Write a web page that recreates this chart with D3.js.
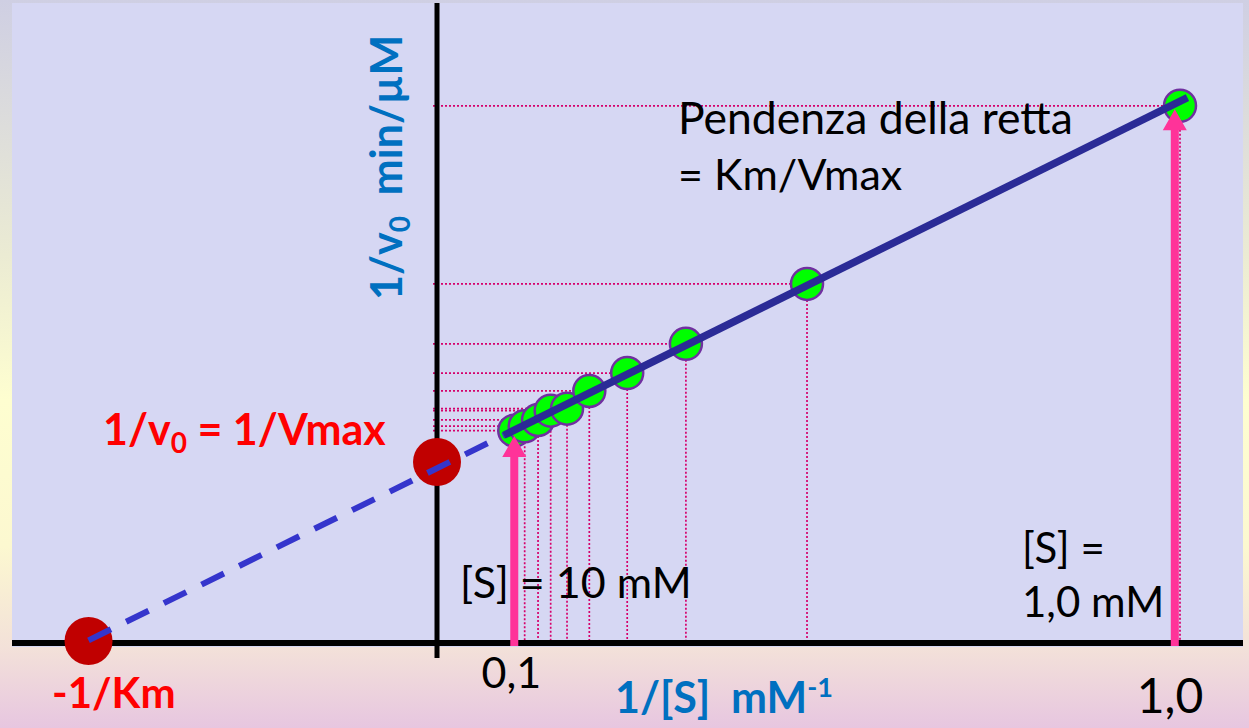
<!DOCTYPE html>
<html>
<head>
<meta charset="utf-8">
<script src="https://cdn.jsdelivr.net/npm/d3@7"></script>
<style>
  html, body { margin: 0; padding: 0; background: #fff; }
  svg { display: block; }
  text { font-family: Lato, "Open Sans", sans-serif; white-space: pre; }
</style>
</head>
<body>
<div id="chart"></div>
<script>
// Lineweaver-Burk points (1/[S] in mM^-1, 1/v0 arbitrary units)
const invS = [0.104, 0.118, 0.136, 0.153, 0.175, 0.205, 0.256, 0.335, 0.498, 1.0];
const invV = [1.175, 1.2, 1.235, 1.287, 1.298, 1.397, 1.497, 1.66, 1.995, 2.99];

// fitted straight line  1/v0 = lineIntercept + lineSlope * 1/[S]
const lineIntercept = 0.965;
const lineSlope = 2.05;
const solidFrom = 0.09, solidTo = 1.01;

// special points on the axes
const negInvKm = -0.469;     // x intercept
const invVmax = 1.0;         // y intercept (drawn dot)

// arrows marking [S] = 10 mM and [S] = 1,0 mM
const arrowX = [0.104, 0.993];
const arrowTip = [1.145, 2.97];

const xTicks = [{ v: 0.1, label: "0,1", dx: 0 }, { v: 1.0, label: "1,0", dx: -10 }];

const W = 1249, H = 728;

const x = d3.scaleLinear().domain([0, 1]).range([437, 1180]);
const y = d3.scaleLinear().domain([0, 1]).range([641, 462]);

const svg = d3.select("#chart").append("svg")
    .attr("width", W)
    .attr("height", H);

// slide-like background
const defs = svg.append("defs");
const grad = defs.append("linearGradient")
    .attr("id", "bg")
    .attr("x1", 0).attr("y1", 0).attr("x2", 0).attr("y2", 1);
[["0", "#cfcfe3"], ["0.35", "#ebebd3"], ["0.55", "#fefed0"], ["0.75", "#fcf8d0"], ["0.89", "#f3e1d9"], ["1", "#e7c6e0"]]
    .forEach(function (s) { grad.append("stop").attr("offset", s[0]).attr("stop-color", s[1]); });

svg.append("rect").attr("width", W).attr("height", H).attr("fill", "url(#bg)");
svg.append("rect")
    .attr("x", 12).attr("y", 3)
    .attr("width", 1231).attr("height", 644)
    .attr("fill", "#d6d7f3");

const pts = invS.map(function (d, i) { return { x: d, y: invV[i] }; });

// dotted guide lines
const guides = svg.append("g")
    .attr("stroke", "#d6006b")
    .attr("stroke-width", 1.7)
    .attr("stroke-dasharray", "2,2");

guides.selectAll(".h").data(pts).enter().append("line")
    .attr("x1", x(0) - 4).attr("x2", function (d) { return x(d.x); })
    .attr("y1", function (d) { return y(d.y); })
    .attr("y2", function (d) { return y(d.y); });

guides.selectAll(".v").data(pts).enter().append("line")
    .attr("x1", function (d) { return x(d.x); })
    .attr("x2", function (d) { return x(d.x); })
    .attr("y1", function (d) { return y(d.y); })
    .attr("y2", y(0));

// axes
svg.append("line")
    .attr("x1", 12).attr("x2", 1243)
    .attr("y1", y(0) + 2).attr("y2", y(0) + 2)
    .attr("stroke", "#000").attr("stroke-width", 6);
svg.append("line")
    .attr("x1", x(0)).attr("x2", x(0))
    .attr("y1", 3).attr("y2", 658)
    .attr("stroke", "#000").attr("stroke-width", 5);

// intercept dots
svg.selectAll(".icpt")
    .data([[negInvKm, 0], [0, invVmax]])
    .enter().append("circle")
    .attr("cx", function (d) { return x(d[0]); })
    .attr("cy", function (d) { return y(d[1]); })
    .attr("r", 24)
    .attr("fill", "#c00000");

// measured points
svg.selectAll(".pt").data(pts).enter().append("circle")
    .attr("cx", function (d) { return x(d.x); })
    .attr("cy", function (d) { return y(d.y); })
    .attr("r", 16)
    .attr("fill", "#00ff00")
    .attr("stroke", "#7030a0")
    .attr("stroke-width", 2.5);

// pink arrows
arrowX.forEach(function (ax, i) {
    const cx = x(ax), tip = y(arrowTip[i]), base = y(0) + 5;
    const hl = 21, hw = 12, sw = 4;
    const p = d3.path();
    p.moveTo(cx - sw, base);
    p.lineTo(cx - sw, tip + hl);
    p.lineTo(cx - hw, tip + hl);
    p.lineTo(cx, tip);
    p.lineTo(cx + hw, tip + hl);
    p.lineTo(cx + sw, tip + hl);
    p.lineTo(cx + sw, base);
    p.closePath();
    svg.append("path").attr("d", p.toString()).attr("fill", "#ff3399");
});

// regression line: dashed extrapolation and solid fit
const fit = function (v) { return lineIntercept + lineSlope * v; };
const lineGen = d3.line()
    .x(function (d) { return x(d); })
    .y(function (d) { return y(fit(d)); });

svg.append("path")
    .attr("d", lineGen([negInvKm, solidFrom]))
    .attr("stroke", "#3535cc")
    .attr("stroke-width", 6)
    .attr("stroke-dasharray", "25,17")
    .attr("fill", "none");

svg.append("path")
    .attr("d", lineGen([solidFrom, solidTo]))
    .attr("stroke", "#2b2b96")
    .attr("stroke-width", 7.5)
    .attr("fill", "none");

// texts
function label(t, px, py, size, weight, color) {
    return svg.append("text")
        .attr("x", px).attr("y", py)
        .attr("font-size", size)
        .attr("font-weight", weight)
        .attr("fill", color)
        .text(t);
}

label("Pendenza della retta", 678, 134, 44.5, "normal", "#000");
label("= Km/Vmax", 678, 190, 43, "normal", "#000");

const vmaxLbl = svg.append("text")
    .attr("x", 103).attr("y", 445)
    .attr("font-size", 43).attr("font-weight", "bold").attr("fill", "#ff0000");
vmaxLbl.append("tspan").text("1/v");
vmaxLbl.append("tspan").attr("font-size", 28).attr("dy", 8).text("0");
vmaxLbl.append("tspan").attr("dy", -8).text(" = 1/Vmax");

label("-1/Km", 52, 708, 42, "bold", "#ff0000");

label("[S] = 10 mM", 460, 598, 43, "normal", "#000");
label("[S] =", 1022, 563, 42, "normal", "#000");
label("1,0 mM", 1022, 617, 42, "normal", "#000");

// x tick labels
svg.selectAll(".xt").data(xTicks).enter().append("text")
    .attr("x", function (d) { return x(d.v) + d.dx; })
    .attr("y", function (d, i) { return i === 0 ? 688 : 713; })
    .attr("font-size", function (d, i) { return i === 0 ? 43 : 48; })
    .attr("text-anchor", "middle")
    .attr("fill", "#000")
    .text(function (d) { return d.label; });

// x axis title
const xt = svg.append("text")
    .attr("x", 615).attr("y", 713)
    .attr("font-size", 43).attr("font-weight", "bold").attr("fill", "#0070c0");
xt.append("tspan").text("1/[S]\u00a0\u00a0mM");
xt.append("tspan").attr("font-size", 27).attr("dy", -16).text("-1");

// y axis title
const yt = svg.append("text")
    .attr("transform", "translate(402,300) rotate(-90)")
    .attr("font-size", 43).attr("font-weight", "bold").attr("fill", "#0070c0");
yt.append("tspan").text("1/v");
yt.append("tspan").attr("font-size", 28).attr("dy", 8).text("0");
yt.append("tspan").attr("dy", -8).text("\u00a0\u00a0min/µM");
</script>
</body>
</html>
